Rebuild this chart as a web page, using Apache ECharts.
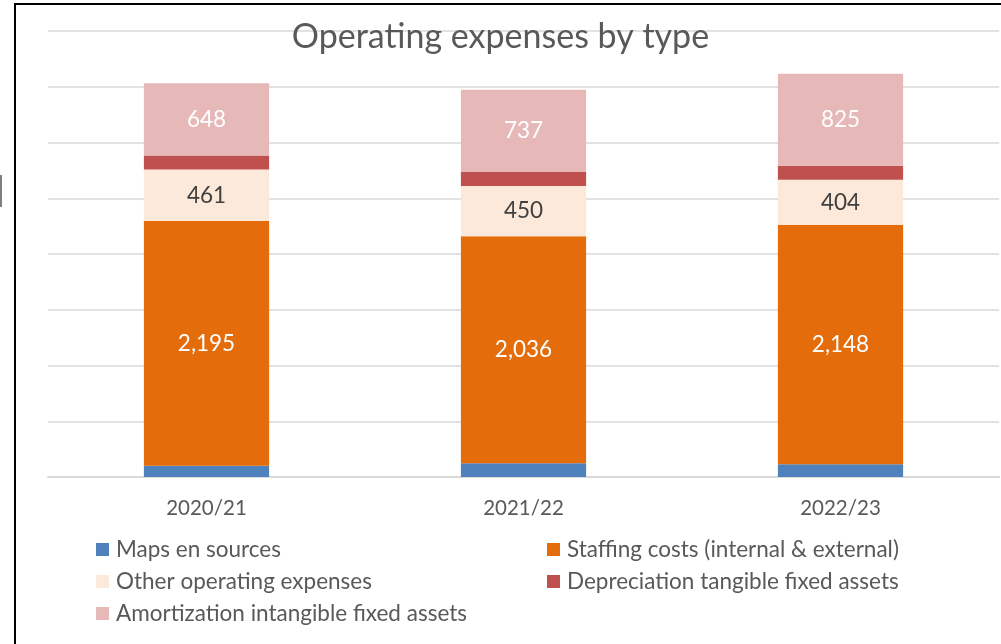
<!DOCTYPE html>
<html>
<head>
<meta charset="utf-8">
<script src="https://cdn.jsdelivr.net/npm/echarts@6/dist/echarts.min.js"></script>
<style>
  html, body { margin: 0; padding: 0; background: #fff; }
  #main { width: 1001px; height: 644px; }
</style>
</head>
<body>
<div id="main"></div>
<script>
const years = ["2020/21", "2021/22", "2022/23"];
const mapsSources = [101, 123, 114];
const staffingCosts = [2195, 2036, 2148];
const otherExpenses = [461, 450, 404];
const depreciation = [126, 126, 126];
const amortization = [648, 737, 825];

const FONT = "Lato";
const fmt = (p) => p.value.toLocaleString("en-US");

function barSeries(name, data, color, labelColor) {
  return {
    name: name,
    type: "bar",
    stack: "total",
    barWidth: "39.5%",
    data: data,
    itemStyle: { color: color },
    label: labelColor
      ? { show: true, position: "inside", color: labelColor, fontFamily: FONT, fontSize: 22.5, formatter: fmt }
      : { show: false },
    emphasis: { disabled: true }
  };
}

const legendText = { fontFamily: FONT, fontSize: 22.5, color: "#595959", padding: [0, 0, 0, 2] };

const myChart = echarts.init(document.getElementById("main"));

myChart.setOption({
  animation: false,
  backgroundColor: "#ffffff",
  title: {
    text: "Operating expenses by type",
    left: "center",
    top: 15,
    textStyle: { fontFamily: FONT, fontSize: 34, fontWeight: "normal", color: "#595959" }
  },
  grid: { left: 48, right: 2, top: 31, bottom: 167 },
  legend: [
    {
      orient: "vertical",
      left: 91,
      top: 533,
      itemWidth: 13,
      itemHeight: 13,
      itemGap: 9,
      icon: "rect",
      data: ["Maps en sources", "Other operating expenses", "Amortization intangible fixed assets"],
      textStyle: legendText
    },
    {
      orient: "vertical",
      left: 542,
      top: 533,
      itemWidth: 13,
      itemHeight: 13,
      itemGap: 9,
      icon: "rect",
      data: ["Staffing costs (internal & external)", "Depreciation tangible fixed assets"],
      textStyle: legendText
    }
  ],
  xAxis: {
    type: "category",
    data: years,
    axisLine: { lineStyle: { color: "#d9d9d9", width: 2 } },
    axisTick: { show: false },
    axisLabel: { fontFamily: FONT, fontSize: 20.5, color: "#595959", margin: 21 }
  },
  yAxis: {
    type: "value",
    min: 0,
    max: 4000,
    interval: 500,
    axisLabel: { show: false },
    axisLine: { show: false },
    axisTick: { show: false },
    splitLine: { lineStyle: { color: "#d9d9d9", width: 1.5 } }
  },
  series: [
    barSeries("Maps en sources", mapsSources, "#4f81bd", null),
    barSeries("Staffing costs (internal & external)", staffingCosts, "#e46c0a", "#ffffff"),
    barSeries("Other operating expenses", otherExpenses, "#fde9d9", "#404040"),
    barSeries("Depreciation tangible fixed assets", depreciation, "#c0504d", null),
    barSeries("Amortization intangible fixed assets", amortization, "#e6b9b8", "#ffffff")
  ],
  graphic: [
    { type: "rect", shape: { x: 14, y: 3, width: 2, height: 641 }, style: { fill: "#000" } },
    { type: "rect", shape: { x: 14, y: 3, width: 987, height: 2 }, style: { fill: "#000" } },
    { type: "rect", shape: { x: 0, y: 175, width: 2, height: 32 }, style: { fill: "#7f7f7f" } }
  ]
});

window.addEventListener("resize", function () {
  myChart.resize();
});
</script>
</body>
</html>
